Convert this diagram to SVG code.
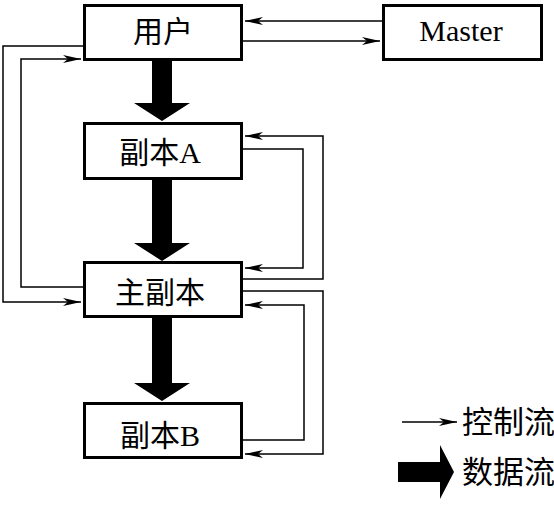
<svg xmlns="http://www.w3.org/2000/svg" width="554" height="510" viewBox="0 0 554 510">
<defs>
<marker id="ah" markerUnits="userSpaceOnUse" markerWidth="20" markerHeight="10" refX="18" refY="4" orient="auto">
<path d="M0,0 L18,4 L0,8 L5,4 Z" fill="#000"/>
</marker>
</defs>
<style>
.box{fill:#fff;stroke:#000;stroke-width:3}
.lbl{font-family:"Liberation Serif","Noto Sans CJK SC",serif;font-size:30px;fill:#000;text-anchor:middle}
.leg{font-family:"Liberation Serif","Noto Sans CJK SC",serif;font-size:31px;fill:#000}
.ctl{fill:none;stroke:#000;stroke-width:1.5;marker-end:url(#ah)}
.data{fill:#000}
</style>
<rect width="554" height="510" fill="#fff"/>
<g id="connectors">
<path class="ctl" d="M382,21 H245"/>
<path class="ctl" d="M243,41 H380"/>
<path class="ctl" d="M83,46 H3 V302 H81"/>
<path class="ctl" d="M83,287 H21 V59 H81"/>
<path class="ctl" d="M243,279 H323 V136 H245"/>
<path class="ctl" d="M243,149 H303 V268 H245"/>
<path class="ctl" d="M243,291 H323 V454 H245"/>
<path class="ctl" d="M243,440 H304 V305 H245"/>
<path class="data" d="M152,61 H172 V103 H190 L162,121 L134,103 H152 Z"/>
<path class="data" d="M152,180 H172 V243 H190 L162,261 L134,243 H152 Z"/>
<path class="data" d="M152,318 H172 V383 H190 L162,401 L134,383 H152 Z"/>
</g>
<g id="user">
<rect class="box" x="84.5" y="5.5" width="157" height="54"/>
<text class="lbl" x="163" y="42">用户</text>
</g>
<g id="master">
<rect class="box" x="383.5" y="5.5" width="158" height="54"/>
<text class="lbl" x="461" y="41">Master</text>
</g>
<g id="replicaA">
<rect class="box" x="84.5" y="123.5" width="157" height="55"/>
<text class="lbl" x="160" y="163">副本A</text>
</g>
<g id="primary">
<rect class="box" x="84.5" y="262.5" width="157" height="54"/>
<text class="lbl" x="160" y="303">主副本</text>
</g>
<g id="replicaB">
<rect class="box" x="84.5" y="403.5" width="157" height="54"/>
<text class="lbl" x="160" y="446">副本B</text>
</g>
<g id="legend">
<path class="ctl" d="M402,422 H457"/>
<text class="leg" x="462" y="433">控制流</text>
<path class="data" d="M398,462 H440 V445 L454,472 L440,499 V482 H398 Z"/>
<text class="leg" x="462" y="483">数据流</text>
</g>
</svg>
